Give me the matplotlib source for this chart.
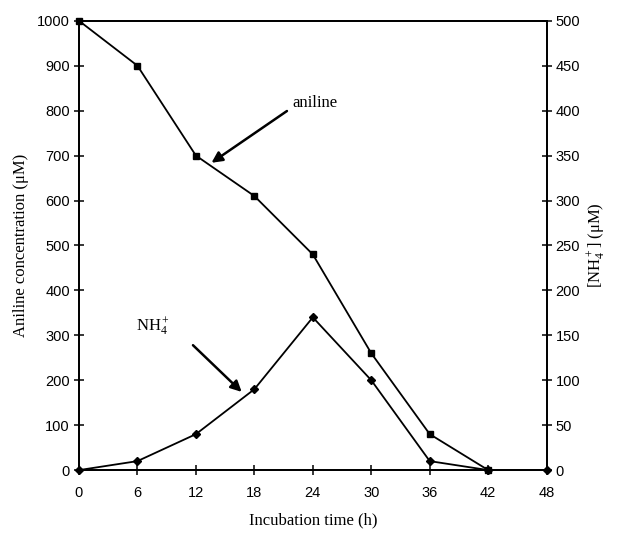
from matplotlib import pyplot as plt

time_h = [0, 6, 12, 18, 24, 30, 36, 42]
aniline = [1000, 900, 700, 610, 480, 260, 80, 0]

nh4_time = [0, 6, 12, 18, 24, 30, 36, 42, 48]
nh4 = [0, 10, 40, 90, 170, 100, 10, 0, 0]

x_ticks = [0, 6, 12, 18, 24, 30, 36, 42, 48]

serif = 'Liberation Serif'
sans = 'Liberation Sans'

plt.rcParams['mathtext.fontset'] = 'custom'
plt.rcParams['mathtext.rm'] = serif
plt.rcParams['mathtext.it'] = serif + ':italic'
plt.rcParams['mathtext.default'] = 'rm'

fig = plt.figure(figsize=(6.17, 5.33), dpi=100)
ax = fig.add_axes([0.128, 0.118, 0.758, 0.843])
ax2 = ax.twinx()

ax.plot(time_h, aniline, color='black', lw=1.3, marker='s', markersize=5, clip_on=False, zorder=3)
ax2.plot(nh4_time, nh4, color='black', lw=1.3, marker='D', markersize=4.5, clip_on=False, zorder=3)

ax.set_xlim(0, 48)
ax.set_ylim(0, 1000)
ax2.set_ylim(0, 500)
ax.set_xticks(x_ticks)
ax.set_yticks(range(0, 1001, 100))
ax2.set_yticks(range(0, 501, 50))

for a in (ax, ax2):
    for s in a.spines.values():
        s.set_linewidth(1.3)
    a.tick_params(direction='inout', length=7, width=1.1, labelsize=10.5)
    for lab in a.get_xticklabels() + a.get_yticklabels():
        lab.set_fontfamily(sans)

ax.tick_params(axis='x', pad=8)
ax.tick_params(axis='y', pad=3)
ax2.tick_params(axis='y', pad=3)

ax.set_xlabel('Incubation time (h)', fontfamily=serif, fontsize=12, labelpad=9)
ax.set_ylabel('Aniline concentration (\u03bcM)', fontfamily=serif, fontsize=12, labelpad=6)
ax2.set_ylabel('[NH$_4^+$] (\u03bcM)', fontfamily=serif, fontsize=12, rotation=90, labelpad=4)

ax.annotate('aniline', xy=(13.6, 684), xytext=(21.9, 817), fontfamily=serif, fontsize=12,
            va='center', ha='left',
            arrowprops=dict(arrowstyle='-|>', color='black', lw=1.8, mutation_scale=16,
                            shrinkA=0, shrinkB=0, relpos=(-0.12, 0.0)))
ax.text(5.9, 318, 'NH$_4^+$', fontfamily=serif, fontsize=12, va='center', ha='left')
ax.annotate('', xy=(16.7, 174), xytext=(11.7, 278),
            arrowprops=dict(arrowstyle='-|>', color='black', lw=1.8, mutation_scale=16,
                            shrinkA=0, shrinkB=0))

fig.savefig('out.png')
